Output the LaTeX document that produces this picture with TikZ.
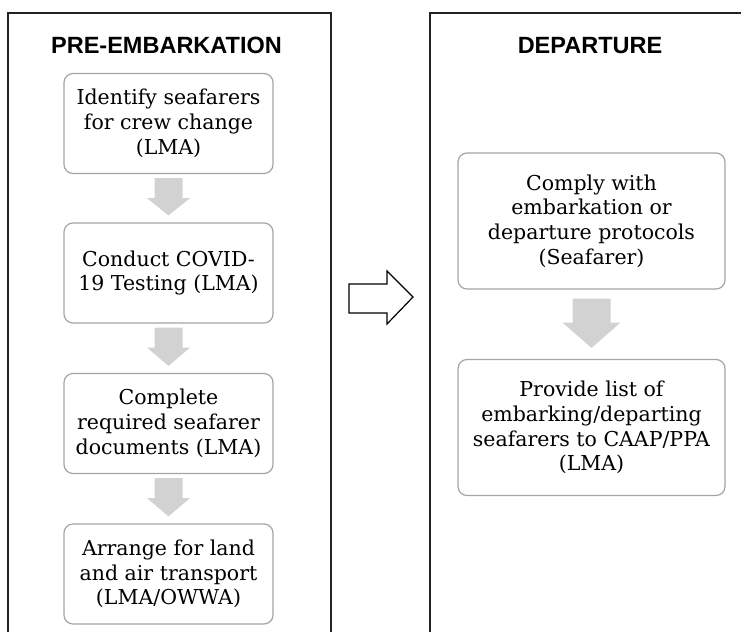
\documentclass[tikz,border=0pt]{standalone}
\usepackage{fontspec}
\setmainfont{DejaVu Serif}
\newfontfamily\headfont{Liberation Sans}
\usepackage{xcolor}
\definecolor{boxline}{RGB}{165,165,165}
\definecolor{arrowfill}{RGB}{210,210,210}
\definecolor{panelline}{RGB}{35,35,35}
\usepackage{tikz}
\usetikzlibrary{positioning,calc}
\tikzstyle{task} = [
    rectangle, rounded corners=9pt,
    draw=boxline, line width=1.2pt,
    align=center, inner sep=0pt,
    text=black,
    font=\fontsize{20.5}{24.7}\selectfont,
]
\tikzstyle{pretask} = [
    task,
    minimum width=209pt,
    minimum height=100pt,
]
\tikzstyle{deptask} = [
    task,
    minimum width=267pt,
    minimum height=136pt,
]
\tikzstyle{title} = [
    anchor=base, inner sep=0pt,
    font=\headfont\bfseries\fontsize{23.5}{28}\selectfont,
]
\tikzstyle{panel} = [line width=1.5pt, draw=panelline]
\tikzstyle{flow} = [fill=arrowfill]

\begin{document}
\begin{tikzpicture}[x=1pt, y=-1pt]
    \useasboundingbox (0,0) rectangle (741,632);

    % panels
    \draw [panel] (8,632) -- (8,13) -- (331,13) -- (331,632);
    \draw [panel] (430,632) -- (430,13) -- (741,13);
    \coordinate (preedge) at (331,298);
    \coordinate (depedge) at (430,298);

    % titles
    \node (titlepre) at (166.5,53) [title] {PRE-EMBARKATION};
    \node (titledep) at (590,53) [title] {DEPARTURE};

    % boxes
    \node (pre1) at (168.5,123.5) [pretask] {Identify seafarers\\for crew change\\(LMA)};
    \node (pre2) at (168.5,273) [pretask] {Conduct COVID-\\19 Testing (LMA)};
    \node (pre3) at (168.5,423.5) [pretask] {Complete\\required seafarer\\documents (LMA)};
    \node (pre4) at (168.5,574) [pretask] {Arrange for land\\and air transport\\(LMA/OWWA)};
    \node (dep1) at (591.5,221) [deptask] {Comply with\\embarkation or\\departure protocols\\(Seafarer)};
    \node (dep2) at (591.5,427.5) [deptask] {Provide list of\\embarking/departing\\seafarers to CAAP/PPA\\(LMA)};

    % arrows
    \foreach \x [evaluate=\x as \y using int(\x+1)] in {1,...,3} {
        \fill [flow] ($(pre\x.south)+(-14,4)$) -- ($(pre\x.south)+(14,4)$)
            -- ($(pre\x.south)+(14,24)$) -- ($(pre\x.south)+(21.5,24)$)
            -- ($(pre\y.north)+(0,-7)$)
            -- ($(pre\x.south)+(-21.5,24)$) -- ($(pre\x.south)+(-14,24)$) -- cycle;
    }
    \fill [flow] ($(dep1.south)+(-19,9)$) -- ($(dep1.south)+(19,9)$)
        -- ($(dep1.south)+(19,33)$) -- ($(dep1.south)+(29,33)$)
        -- ($(dep2.north)+(0,-11)$)
        -- ($(dep1.south)+(-29,33)$) -- ($(dep1.south)+(-19,33)$) -- cycle;

    \draw [line width=1.2pt, line join=miter] ($(preedge)+(18,-14)$) -- ($(preedge)+(56,-14)$)
        -- ($(preedge)+(56,-27)$) -- ($(depedge)+(-17,-1)$)
        -- ($(preedge)+(56,26)$) -- ($(preedge)+(56,15)$)
        -- ($(preedge)+(18,15)$) -- cycle;
\end{tikzpicture}
\end{document}
